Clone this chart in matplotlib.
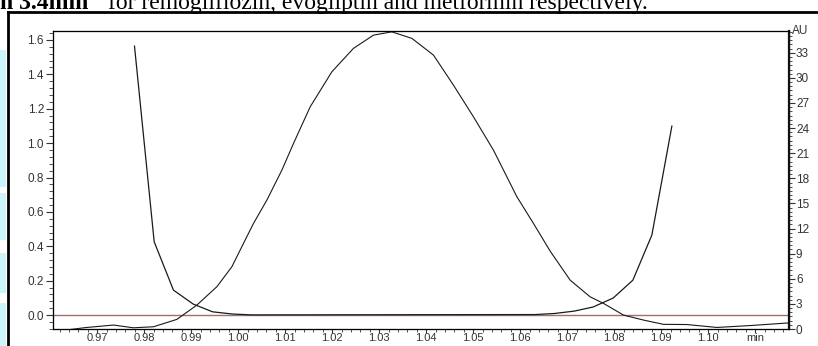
import matplotlib.pyplot as plt
from matplotlib.lines import Line2D
from matplotlib.patches import Rectangle
from matplotlib.ticker import MultipleLocator, FixedLocator

plt.rcParams['font.family'] = ['Liberation Sans', 'DejaVu Sans']

# descending / rising trace (one line, flat along the baseline in the middle)
trace_a_t = [0.97794, 0.98213, 0.98623, 0.99043, 0.99454, 0.99879, 1.0030,
             1.06319, 1.06723, 1.07149, 1.07553, 1.07979, 1.08398, 1.08802, 1.09228]
trace_a_v = [1.564, 0.426, 0.145, 0.064, 0.019, 0.006, 0.001,
             0.003, 0.009, 0.023, 0.047, 0.099, 0.203, 0.465, 1.099]

# main peak trace
trace_b_t = [0.96426, 0.96745, 0.97347, 0.97772, 0.98198, 0.98696, 0.99121, 0.99547,
             0.99866, 1.00113, 1.00326, 1.00611, 1.00930, 1.01177, 1.01532, 1.01994,
             1.02453, 1.02879, 1.03270, 1.03696, 1.04155, 1.04581, 1.05006, 1.05432,
             1.05717, 1.05930, 1.06283, 1.06638, 1.07064, 1.07489, 1.07772, 1.08198,
             1.08623, 1.09049, 1.09547, 1.10185, 1.10894, 1.11745]
trace_b_v = [-0.084, -0.073, -0.058, -0.074, -0.068, -0.025, 0.058, 0.165,
             0.281, 0.417, 0.533, 0.669, 0.843, 0.998, 1.211, 1.415,
             1.551, 1.628, 1.647, 1.609, 1.512, 1.337, 1.153, 0.959,
             0.804, 0.688, 0.533, 0.372, 0.203, 0.106, 0.068, 0.000,
             -0.029, -0.054, -0.055, -0.072, -0.061, -0.045]

x_ticks = [0.97, 0.98, 0.99, 1.00, 1.01, 1.02, 1.03, 1.04, 1.05, 1.06, 1.07, 1.08, 1.09, 1.10, 1.11]
x_labels = ['0.97', '0.98', '0.99', '1.00', '1.01', '1.02', '1.03', '1.04', '1.05',
            '1.06', '1.07', '1.08', '1.09', '1.10', 'min']
left_ticks = [0.0, 0.2, 0.4, 0.6, 0.8, 1.0, 1.2, 1.4, 1.6]
right_ticks = [0, 3, 6, 9, 12, 15, 18, 21, 24, 27, 30, 33]

fig = plt.figure(figsize=(8.18, 3.46), dpi=100)
W, H = 818, 346
ax = fig.add_axes([53 / W, (H - 329) / H, 736 / W, 298 / H])

# baseline
ax.axhline(0.0, color='#c06060', lw=1.0, zorder=1)
ax.plot(trace_a_t, trace_a_v, color='#1a1a1a', lw=0.9, zorder=2)
ax.plot(trace_b_t, trace_b_v, color='#1a1a1a', lw=0.8, zorder=2)

ax.set_xlim(0.9606, 1.1172)
ax.set_ylim(-0.081, 1.652)
ax.xaxis.set_major_locator(FixedLocator(x_ticks))
ax.set_xticklabels(x_labels)
ax.xaxis.set_minor_locator(MultipleLocator(0.002))
ax.yaxis.set_major_locator(FixedLocator(left_ticks))
ax.set_yticklabels(['%.1f' % v for v in left_ticks])
ax.yaxis.set_minor_locator(MultipleLocator(0.04))
ax.tick_params(which='major', length=5, width=0.8, colors='#333333', labelsize=8.5, pad=1.5)
ax.tick_params(which='minor', length=3, width=0.6, colors='#333333')
ax.tick_params(axis='x', which='major', length=3, labelsize=8, pad=0)
ax.tick_params(axis='x', which='minor', length=2)
for s in ax.spines.values():
    s.set_color('#444444')
    s.set_linewidth(0.9)

# right AU axis
ax2 = ax.twinx()
ax2.set_ylim(0, 35.6)
ax2.yaxis.set_major_locator(FixedLocator(right_ticks))
ax2.yaxis.set_minor_locator(MultipleLocator(0.5))
ax2.tick_params(which='major', length=4, width=0.8, colors='#333333', labelsize=8.5, pad=1)
ax2.tick_params(which='minor', length=2, width=0.6, colors='#333333')
ax2.spines['right'].set_linewidth(1.6)
ax2.spines['right'].set_color('#111111')
ax2.text(1.004, 1.0, 'AU', transform=ax2.transAxes, ha='left', va='center',
         fontsize=8.5, color='#333333')

# page frame and cut-off caption
fig.add_artist(Line2D([8 / W, 1.0], [1 - 12 / H, 1 - 12 / H], color='black', lw=2.0))
fig.add_artist(Line2D([8 / W, 8 / W], [0.0, 1 - 12 / H], color='black', lw=2.0))
for y0, y1 in [(50, 187), (193, 240), (253, 293), (303, 346)]:
    fig.add_artist(Rectangle((0, 1 - y1 / H), 6 / W, (y1 - y0) / H,
                             color='#cdf3fb', lw=0))
fig.text(0.0, 1 - 9 / H, 'n 3.4min', fontsize=17, fontweight='bold',
         family='Liberation Serif', va='baseline')
fig.text(108 / W, 1 - 9 / H, 'for remogliflozin, evogliptin and metformin respectively.',
         fontsize=17, family='Liberation Serif', va='baseline')

fig.savefig('out.png', dpi=100)
